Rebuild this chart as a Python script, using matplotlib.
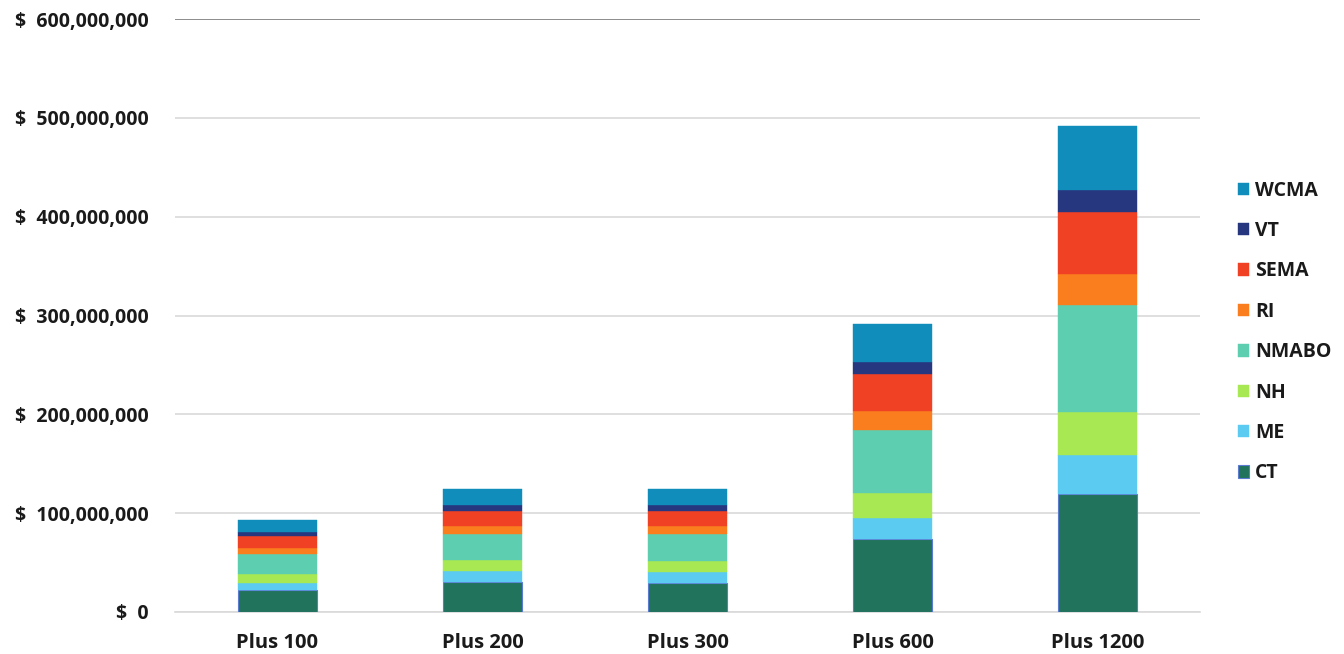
import matplotlib
matplotlib.use("Agg")
import matplotlib.pyplot as plt
from matplotlib.ticker import FuncFormatter
import numpy as np

plt.rcParams['font.family'] = ['Open Sans', 'DejaVu Sans']

scenarios = ['Plus 100', 'Plus 200', 'Plus 300', 'Plus 600', 'Plus 1200']
regions = ['CT', 'ME', 'NH', 'NMABO', 'RI', 'SEMA', 'VT', 'WCMA']
colors = ['#21735C', '#5BCBF2', '#A8E852', '#5ECEB0', '#FA7D1E', '#F04124', '#27377F', '#108DBA']

# values in millions of dollars
ct    = [22.6, 30.0, 29.3, 73.4, 119.6]
me    = [7.1, 11.1, 10.8, 21.9, 39.4]
nh    = [9.1, 11.1, 11.1, 25.6, 43.0]
nmabo = [20.2, 27.0, 28.0, 63.3, 109.1]
ri    = [5.4, 7.4, 7.4, 18.8, 31.0]
sema  = [12.1, 15.5, 15.5, 37.8, 62.9]
vt    = [4.3, 5.8, 5.8, 11.7, 21.9]
wcma  = [11.8, 16.2, 16.2, 39.4, 64.6]

series = [ct, me, nh, nmabo, ri, sema, vt, wcma]

fig = plt.figure(figsize=(13.44, 6.54), dpi=100)
ax = fig.add_axes([175 / 1344, 1 - 612 / 654, 1025 / 1344, 593 / 654])

x = np.arange(len(scenarios))
bottom = np.zeros(len(scenarios))
handles = []
for name, vals, col in zip(regions, series, colors):
    v = np.array(vals) * 1e6
    edge = '#5A7BD0' if name == 'CT' else col
    b = ax.bar(x, v, width=0.39, bottom=bottom, color=col, edgecolor=edge,
               linewidth=0.8 if name == 'CT' else 0.3, label=name, zorder=3)
    handles.append(b)
    bottom += v

ax.set_xlim(-0.5, 4.5)
ax.set_ylim(0, 600e6)
ax.set_yticks(np.arange(0, 600e6 + 1, 100e6))
ax.yaxis.set_major_formatter(FuncFormatter(lambda val, p: '$  {:,.0f}'.format(val) if val else '$  0'))
ax.grid(axis='y', color='#D9D9D9', linewidth=1.2, zorder=0)
ax.set_axisbelow(True)
for s in ['left', 'right', 'top']:
    ax.spines[s].set_visible(False)
ax.spines['bottom'].set_color('#D9D9D9')
ax.spines['bottom'].set_linewidth(1.2)
ax.axhline(600e6, color='#808080', linewidth=1.2, zorder=1)

ax.set_xticks(x)
ax.set_xticklabels(scenarios)
ax.tick_params(axis='both', length=0, labelsize=14.5)
ax.tick_params(axis='x', pad=15)
for lab in ax.get_xticklabels() + ax.get_yticklabels():
    lab.set_fontweight('bold')
    lab.set_color('#1a1a1a')
for lab in ax.get_yticklabels():
    lab.set_fontsize(14)
ax.tick_params(axis='y', pad=19)

leg = fig.legend(handles[::-1], regions[::-1], loc='center left',
                 bbox_to_anchor=(1220 / 1344, 1 - 332 / 654), frameon=False,
                 prop={'size': 14, 'weight': 'bold'}, handlelength=0.6,
                 handleheight=0.6, handletextpad=0.3, labelspacing=1.05)
for t in leg.get_texts():
    t.set_color('#1a1a1a')

fig.savefig('out.png', dpi=100)
